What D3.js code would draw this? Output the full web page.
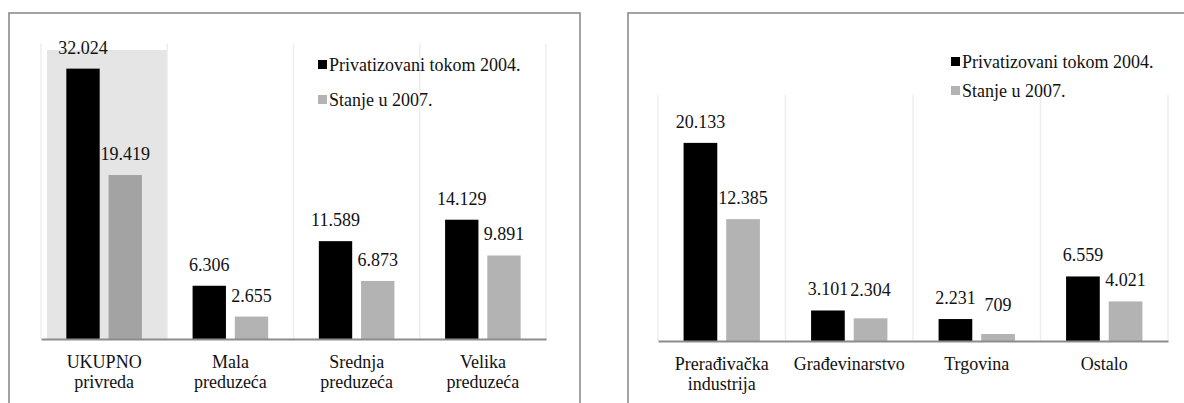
<!DOCTYPE html>
<html>
<head>
<meta charset="utf-8">
<script src="https://cdn.jsdelivr.net/npm/d3@7"></script>
<style>
  html, body { margin: 0; padding: 0; background: #fff; }
  svg { display: block; }
</style>
</head>
<body>
<svg id="chart" width="1184" height="403"></svg>
<script>
// Series names shared by both panels
const seriesNames = ["Privatizovani tokom 2004.", "Stanje u 2007."];

// Panel 1: by enterprise size
const sizeCategories = ["UKUPNO\nprivreda", "Mala\npreduzeća", "Srednja\npreduzeća", "Velika\npreduzeća"];
const sizePrivatized = [32024, 6306, 11589, 14129];
const sizeState2007 = [19419, 2655, 6873, 9891];

// Panel 2: by sector
const sectorCategories = ["Prerađivačka\nindustrija", "Građevinarstvo", "Trgovina", "Ostalo"];
const sectorPrivatized = [20133, 3101, 2231, 6559];
const sectorState2007 = [12385, 2304, 709, 4021];

// Value axis maxima
const sizeMax = 35000;
const sectorMax = 25000;

const FONT = "Liberation Serif";
const FS = 18;
const fmt = d3.formatLocale({ decimal: ",", thousands: ".", grouping: [3], currency: ["", ""] }).format(",d");

const svg = d3.select("#chart");

function drawPanel(cfg) {
  const g = svg.append("g");

  // outer frame
  g.append("rect")
    .attr("x", cfg.frame.x).attr("y", cfg.frame.y)
    .attr("width", cfg.frame.w).attr("height", 420)
    .attr("fill", "#fff").attr("stroke", "#8c8c8c").attr("stroke-width", 1.6);

  const x = d3.scaleBand().domain(cfg.categories).range([cfg.x0, cfg.x1]).padding(0);
  const x1 = d3.scaleBand().domain([0, 1]).range([0, x.bandwidth()]).paddingInner(0.21).paddingOuter(0.6);
  const y = d3.scaleLinear().domain([0, cfg.yMax]).range([cfg.base, cfg.top]);

  // highlight behind the first category
  if (cfg.highlight) {
    const hx = x(cfg.categories[0]) + 6;
    g.append("rect")
      .attr("x", hx).attr("y", cfg.top + 6.5)
      .attr("width", x(cfg.categories[1]) - hx).attr("height", cfg.base - cfg.top - 6.5)
      .attr("fill", "#e5e5e5");
  }

  // vertical gridlines at category boundaries
  const bounds = cfg.categories.map(c => x(c)).concat([cfg.x1]);
  g.selectAll(".grid").data(bounds).join("line")
    .attr("x1", d => d).attr("x2", d => d)
    .attr("y1", cfg.top).attr("y2", cfg.base)
    .attr("stroke", "#eeeeee").attr("stroke-width", 1.5);

  const rows = cfg.categories.map((c, i) => ({
    cat: c, i,
    vals: [cfg.s1[i], cfg.s2[i]]
  }));

  const groups = g.selectAll(".grp").data(rows).join("g")
    .attr("transform", d => `translate(${x(d.cat)},0)`);

  groups.selectAll("rect").data(d => d.vals.map((v, k) => ({ v, k, i: d.i }))).join("rect")
    .attr("x", d => x1(d.k))
    .attr("width", x1.bandwidth())
    .attr("y", d => y(d.v))
    .attr("height", d => cfg.base - y(d.v))
    .attr("fill", d => d.k === 0 ? "#000" : (cfg.highlight && d.i === 0 ? "#a3a3a3" : "#b3b3b3"));

  groups.selectAll("text.val").data(d => d.vals.map((v, k) => ({ v, k, i: d.i }))).join("text")
    .attr("class", "val")
    .attr("x", d => x1(d.k) + x1.bandwidth() / 2)
    .attr("y", d => y(d.v) - 15 - ((cfg.lift[d.k] || [])[d.i] || 0))
    .attr("text-anchor", "middle")
    .attr("font-family", FONT)
    .attr("font-size", FS)
    .attr("fill", "#111")
    .text(d => fmt(d.v));

  // category axis
  const axis = g.append("g")
    .attr("transform", `translate(0,${cfg.base})`)
    .call(d3.axisBottom(x).tickSize(0).tickFormat(""))
    .attr("font-family", FONT);
  axis.select(".domain").attr("stroke", "#8c8c8c").attr("stroke-width", 2);

  axis.selectAll(".tick").each(function (d) {
    const t = d3.select(this).append("text")
      .attr("text-anchor", "middle")
      .attr("font-family", FONT)
      .attr("font-size", FS)
      .attr("fill", "#111")
      .attr("y", 29);
    d.split("\n").forEach((line, k) => {
      t.append("tspan").attr("x", 0).attr("dy", k === 0 ? 0 : 20).text(line);
    });
  });

  // legend
  const colors = ["#000", "#b3b3b3"];
  seriesNames.forEach((name, k) => {
    const ly = cfg.legend.y[k];
    g.append("rect")
      .attr("x", cfg.legend.x).attr("y", ly - 11)
      .attr("width", 9).attr("height", 9)
      .attr("fill", colors[k]);
    g.append("text")
      .attr("x", cfg.legend.x + 11).attr("y", ly)
      .attr("font-family", FONT)
      .attr("font-size", FS)
      .attr("fill", "#111")
      .text(name);
  });
}

drawPanel({
  frame: { x: 9, y: 13, w: 571 },
  categories: sizeCategories, s1: sizePrivatized, s2: sizeState2007,
  x0: 41, x1: 546, top: 43.5, base: 339, yMax: sizeMax,
  highlight: true,
  lift: [],
  legend: { x: 318, y: [71, 106] }
});

drawPanel({
  frame: { x: 628, y: 13, w: 620 },
  categories: sectorCategories, s1: sectorPrivatized, s2: sectorState2007,
  x0: 658, x1: 1168, top: 95, base: 341, yMax: sectorMax,
  highlight: false,
  lift: [[0, 0, 0, 0], [0, 7, 8, 0]],
  legend: { x: 951, y: [68, 97] }
});
</script>
</body>
</html>
